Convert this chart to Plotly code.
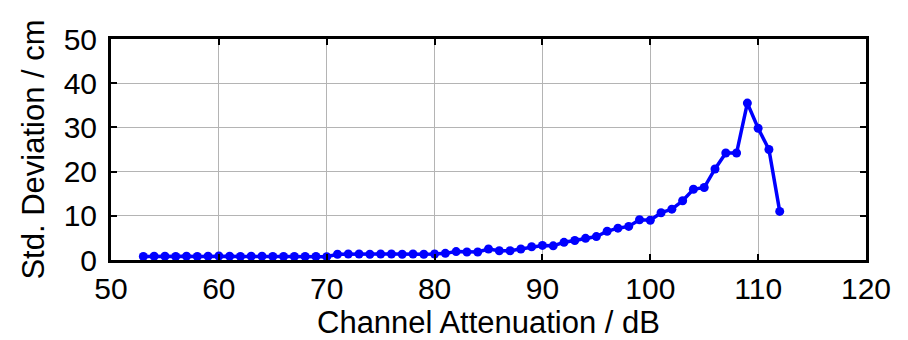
import plotly.graph_objects as go

attenuation_db = list(range(53, 113))
std_dev_cm = [
    0.8, 0.85, 0.85, 0.8, 0.85, 0.8, 0.85, 0.9, 0.85, 0.8, 0.85, 0.85, 0.8, 0.8, 0.8, 0.8, 0.8, 0.75,
    1.3, 1.35, 1.35, 1.3, 1.35, 1.35, 1.3, 1.35, 1.3, 1.35, 1.5,
    1.9, 1.8, 1.8, 2.5, 2.1, 2.1, 2.5, 3.0, 3.3, 3.2, 4.0, 4.4, 4.9, 5.3, 6.5, 7.2, 7.6, 9.1, 9.0,
    10.7, 11.5, 13.4, 16.0, 16.4, 20.6, 24.2, 24.2, 35.5, 29.8, 25.0, 11.0,
]
x_ticks = [50, 60, 70, 80, 90, 100, 110, 120]
y_ticks = [0, 10, 20, 30, 40, 50]

fig = go.Figure()
fig.add_trace(go.Scatter(
    x=attenuation_db, y=std_dev_cm, mode="lines+markers",
    line=dict(color="#0000FF", width=3.5),
    marker=dict(color="#0000FF", size=9),
    showlegend=False,
))

font = "Liberation Sans, Arial, sans-serif"
axis_common = dict(
    showline=True, linecolor="black", linewidth=3, mirror="ticks",
    ticks="inside", ticklen=6, tickwidth=2, tickcolor="black",
    showgrid=True, gridcolor="#b4b4b4", gridwidth=1,
    zeroline=False,
    tickfont=dict(family=font, size=30, color="black"),
)
fig.update_xaxes(range=[50, 120], tickvals=x_ticks, ticktext=[str(v) for v in x_ticks],
                 title=dict(text="Channel Attenuation / dB", font=dict(family=font, size=31, color="black"), standoff=2),
                 ticklabelstandoff=0, **axis_common)
fig.update_yaxes(range=[0, 50], tickvals=y_ticks, ticktext=[str(v) for v in y_ticks],
                 title=dict(text="Std. Deviation / cm", font=dict(family=font, size=31, color="black"), standoff=10),
                 ticklabelstandoff=5, **axis_common)
fig.update_layout(
    width=908, height=340,
    margin=dict(l=111, r=42, t=39, b=80),
    paper_bgcolor="white", plot_bgcolor="white",
)
fig.write_html("out.html")
